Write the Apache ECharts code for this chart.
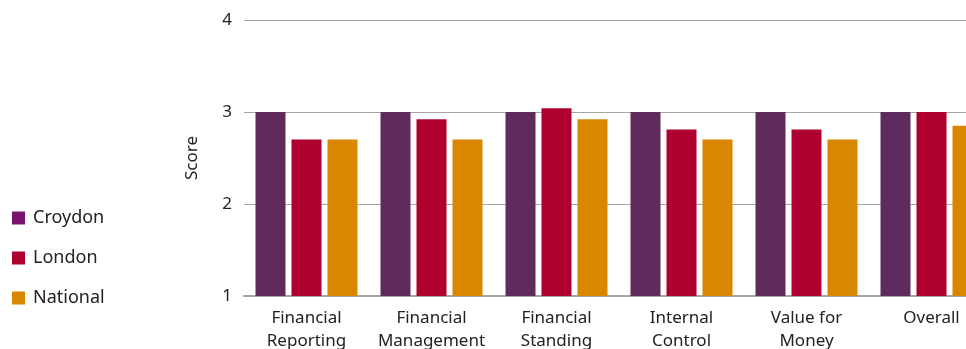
<!DOCTYPE html>
<html>
<head>
<meta charset="utf-8">
<script src="https://cdn.jsdelivr.net/npm/echarts@6/dist/echarts.min.js"></script>
<style>html,body{margin:0;padding:0;background:#fff;}#c{width:966px;height:349px;}</style>
</head>
<body>
<div id="c"></div>
<script>
const categories = ['Financial\nReporting', 'Financial\nManagement', 'Financial\nStanding', 'Internal\nControl', 'Value for\nMoney', 'Overall'];
const croydon = [3, 3, 3, 3, 3, 3];
const london = [2.7, 2.92, 3.04, 2.81, 2.81, 3];
const national = [2.7, 2.7, 2.92, 2.7, 2.7, 2.85];
const yTicks = [1, 2, 3, 4];

const FONT = '"Noto Sans", "Open Sans", sans-serif';
const chart = echarts.init(document.getElementById('c'), null, {renderer: 'canvas'});
chart.setOption({
  animation: false,
  backgroundColor: '#fff',
  textStyle: {fontFamily: FONT},
  legend: {
    orient: 'vertical', left: 12, top: 209, padding: 0,
    itemWidth: 13, itemHeight: 13, itemGap: 22,
    icon: 'rect',
    textStyle: {fontSize: 18, color: '#222', fontFamily: FONT, padding: [0, 0, 0, 3]},
    data: [
      {name: 'Croydon', itemStyle: {color: '#7a156e'}},
      {name: 'London', itemStyle: {color: '#b00030'}},
      {name: 'National', itemStyle: {color: '#d98600'}}
    ]
  },
  grid: {left: 244, top: 20, width: 750, height: 276, containLabel: false, outerBoundsMode: 'none'},
  xAxis: {
    type: 'category', data: categories,
    axisTick: {show: false},
    axisLine: {lineStyle: {color: '#a6a6a6', width: 2}},
    axisLabel: {fontSize: 17, color: '#222', lineHeight: 23, margin: 11, interval: 0, fontFamily: FONT}
  },
  yAxis: {
    type: 'value', min: yTicks[0], max: yTicks[yTicks.length - 1], interval: 1,
    name: 'Score', nameLocation: 'middle', nameGap: 43, nameRotate: 90,
    nameTextStyle: {fontSize: 17, color: '#222', fontFamily: FONT},
    axisLine: {show: false}, axisTick: {show: false},
    axisLabel: {fontSize: 17, color: '#222', margin: 12, fontFamily: FONT},
    splitLine: {lineStyle: {color: '#a6a6a6', width: 1}}
  },
  series: [
    {name: 'Croydon', type: 'bar', data: croydon, barWidth: 30, barGap: '20%', itemStyle: {color: '#5f2a5c'}},
    {name: 'London', type: 'bar', data: london, barWidth: 30, barGap: '20%', itemStyle: {color: '#b00030'}},
    {name: 'National', type: 'bar', data: national, barWidth: 30, barGap: '20%', itemStyle: {color: '#d98600'}}
  ]
});
</script>
</body>
</html>
